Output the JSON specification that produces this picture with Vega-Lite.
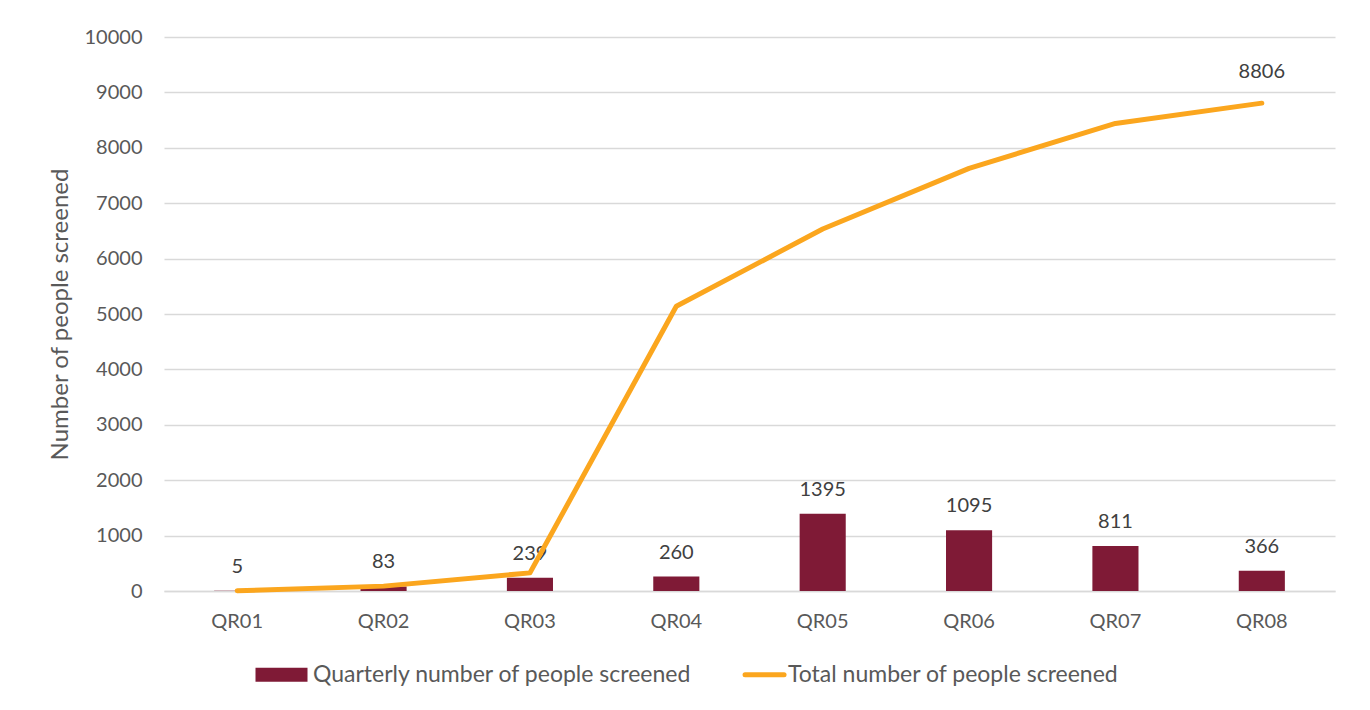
{
  "$schema": "https://vega.github.io/schema/vega-lite/v6.json",
  "width": 1171,
  "height": 554,
  "autosize": {"type": "none"},
  "padding": {"left": 164, "top": 37, "right": 35, "bottom": 119},
  "background": "white",
  "config": {
    "font": "Lato",
    "view": {"stroke": null}
  },
  "data": {
    "values": [
      {"quarter": "QR01", "quarterly": 5, "total": 5},
      {"quarter": "QR02", "quarterly": 83, "total": 88},
      {"quarter": "QR03", "quarterly": 239, "total": 327},
      {"quarter": "QR04", "quarterly": 260, "total": 5139},
      {"quarter": "QR05", "quarterly": 1395, "total": 6534},
      {"quarter": "QR06", "quarterly": 1095, "total": 7629},
      {"quarter": "QR07", "quarterly": 811, "total": 8440},
      {"quarter": "QR08", "quarterly": 366, "total": 8806}
    ]
  },
  "encoding": {
    "x": {
      "field": "quarter",
      "type": "nominal",
      "sort": null,
      "scale": {"paddingInner": 0.685, "paddingOuter": 0.3425},
      "axis": {
        "title": null,
        "labelAngle": 0,
        "labelFontSize": 20,
        "labelColor": "#595959",
        "labelPadding": 20,
        "ticks": false,
        "domainColor": "#d9d9d9",
        "domainWidth": 1.5
      }
    }
  },
  "layer": [
    {
      "mark": {"type": "bar", "color": "#7f1a36"},
      "encoding": {
        "y": {
          "field": "quarterly",
          "type": "quantitative",
          "scale": {"domain": [0, 10000], "nice": false},
          "axis": {
            "title": "Number of people screened",
            "titleFontSize": 24,
            "titleFontWeight": "normal",
            "titleColor": "#595959",
            "titlePadding": 12,
            "values": [0, 1000, 2000, 3000, 4000, 5000, 6000, 7000, 8000, 9000, 10000],
            "format": "d",
            "labelFontSize": 20,
            "labelColor": "#595959",
            "labelPadding": 22,
            "domain": false,
            "ticks": false,
            "gridColor": "#d9d9d9",
            "gridWidth": 1.5
          }
        },
        "color": {
          "datum": "Quarterly number of people screened",
          "scale": {
            "domain": ["Quarterly number of people screened", "Total number of people screened"],
            "range": ["#7f1a36", "#fba61e"]
          },
          "legend": {
            "title": null,
            "orient": "none",
            "direction": "horizontal",
            "legendX": 106,
            "legendY": 626,
            "labelFontSize": 23,
            "labelColor": "#595959",
            "labelLimit": 0,
            "labelOffset": 20,
            "columnPadding": 43,
            "encode": {
              "symbols": {
                "update": {
                  "shape": {"signal": "datum.value === 'Total number of people screened' ? 'M-0.44,0H1.06' : 'M-1,-0.27H1V0.27H-1Z'"},
                  "size": {"value": 2704},
                  "fill": {"signal": "datum.value === 'Total number of people screened' ? 'transparent' : '#7f1a36'"},
                  "stroke": {"signal": "datum.value === 'Total number of people screened' ? '#fba61e' : 'transparent'"},
                  "strokeWidth": {"signal": "datum.value === 'Total number of people screened' ? 5 : 0"},
                  "strokeCap": {"value": "round"},
                  "opacity": {"value": 1}
                }
              }
            }
          }
        }
      }
    },
    {
      "mark": {"type": "text", "baseline": "middle", "dy": -24, "fontSize": 20, "color": "#404040"},
      "encoding": {
        "y": {"field": "quarterly", "type": "quantitative"},
        "text": {"field": "quarterly", "type": "quantitative", "format": "d"}
      }
    },
    {
      "mark": {"type": "line", "strokeWidth": 5, "strokeCap": "round", "strokeJoin": "round"},
      "encoding": {
        "y": {"field": "total", "type": "quantitative"},
        "color": {"datum": "Total number of people screened"}
      }
    },
    {
      "transform": [{"filter": "datum.quarter === 'QR08'"}],
      "mark": {"type": "text", "baseline": "middle", "dy": -31, "fontSize": 20, "color": "#404040"},
      "encoding": {
        "y": {"field": "total", "type": "quantitative"},
        "text": {"field": "total", "type": "quantitative", "format": "d"}
      }
    }
  ]
}
